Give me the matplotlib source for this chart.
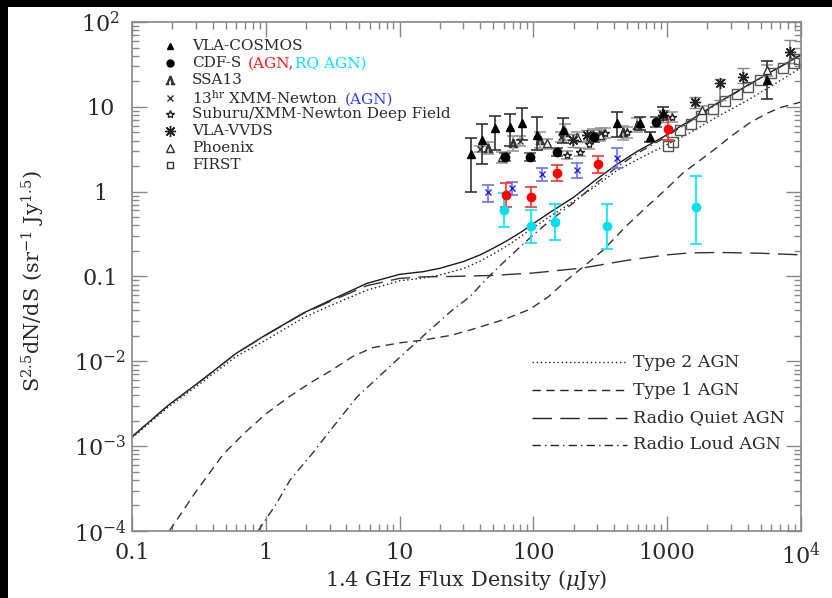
import matplotlib
matplotlib.use("Agg")
import matplotlib.pyplot as plt
from matplotlib.patches import Rectangle
import numpy as np

plt.rcParams['font.family'] = ['DejaVu Serif']
plt.rcParams['mathtext.fontset'] = 'dejavuserif'

# ---- model curves (flux density in uJy, S^2.5 dN/dS) ----
tot_S = [0.1, 0.187, 0.32, 0.6, 1.0, 1.9, 3, 5.7, 10, 15, 20, 30, 40, 50, 65, 80, 100, 133, 200,
         300, 422, 600, 931, 1500, 2355, 4000, 7330, 10000]
tot_V = [1.29e-3, 3.04e-3, 5.73e-3, 0.0124, 0.0205, 0.037, 0.052, 0.083, 0.106, 0.114, 0.125,
         0.150, 0.18, 0.215, 0.27, 0.33, 0.42, 0.57, 0.86, 1.42, 2.1, 3.0, 4.4, 7.0, 11.0, 18, 31, 41]

type2_S = [0.1, 0.187, 0.32, 0.6, 1.0, 1.9, 3, 5.7, 10, 15, 20, 30, 40, 50, 65, 80, 100, 133, 200,
           300, 422, 600, 931, 1500, 2355, 4000, 7330, 10000]
type2_V = [1.25e-3, 2.9e-3, 5.4e-3, 0.0114, 0.0178, 0.0325, 0.045, 0.069, 0.089, 0.096, 0.104,
           0.124, 0.152, 0.184, 0.235, 0.295, 0.378, 0.51, 0.77, 1.2, 1.78, 2.4, 3.4, 5.0, 7.6, 12,
           21.3, 29]

type1_S = [0.19, 0.3, 0.48, 0.7, 1.0, 1.52, 2.2, 3, 4.5, 6.3, 10, 15, 24, 33.6, 60, 94, 130, 178,
           250, 331, 500, 700, 1000, 1312, 2200, 3000, 4160, 5500, 7000, 10000]
type1_V = [1e-4, 2.9e-4, 8.0e-4, 1.45e-3, 2.4e-3, 3.9e-3, 5.7e-3, 7.6e-3, 0.0115, 0.0145, 0.0165,
           0.0178, 0.0202, 0.0234, 0.031, 0.041, 0.058, 0.091, 0.14, 0.204, 0.40, 0.66, 1.1, 1.66,
           3.05, 4.5, 6.5, 8.3, 9.8, 11.4]

rq_S = [0.1, 0.187, 0.32, 0.6, 1.0, 1.9, 3, 5.7, 10, 15, 24, 50, 100, 234, 500, 1000, 1500, 2500,
        5000, 10000]
rq_V = [1.29e-3, 3.04e-3, 5.73e-3, 0.0124, 0.0203, 0.0365, 0.0505, 0.078, 0.095, 0.099, 0.1, 0.103,
        0.11, 0.126, 0.155, 0.18, 0.19, 0.192, 0.188, 0.18]

rl_S = [0.875, 1.2, 1.52, 2.2, 3, 4.8, 7, 10, 15, 24, 33.6, 40, 50, 65, 80, 100, 133, 200, 300,
        422, 600, 931, 1500, 2355, 4000, 7330, 10000]
rl_V = [1e-4, 2.1e-4, 4e-4, 8e-4, 1.5e-3, 3.8e-3, 6.6e-3, 0.0111, 0.0199, 0.0385, 0.058, 0.078,
        0.112, 0.166, 0.225, 0.31, 0.455, 0.74, 1.29, 1.95, 2.84, 4.22, 6.8, 10.8, 17.8, 30.8, 40.8]

# ---- data points ----
cosmos_S = [34, 41, 52, 67, 82, 106, 166, 422, 627, 743, 931, 5570]
cosmos_V = [2.8, 4.06, 5.6, 5.8, 6.4, 4.6, 5.35, 6.4, 6.4, 4.4, 8.4, 20.7]
cosmos_lo = [0.99, 2.1, 3.1, 3.5, 4.1, 3.1, 3.7, 4.4, 5.4, 3.9, 7.0, 12.4]
cosmos_hi = [4.3, 6.3, 7.8, 8.2, 9.7, 7.6, 7.4, 8.7, 7.6, 5.0, 10.0, 35.0]

cdfs_S = [61, 94, 150, 282, 830]
cdfs_V = [2.56, 2.56, 2.9, 4.4, 6.6]
cdfs_lo = [2.3, 2.3, 2.6, 3.9, 5.8]
cdfs_hi = [2.85, 2.85, 3.25, 4.9, 7.5]

agn_S = [62, 96, 150, 304, 1014]
agn_V = [0.91, 0.86, 1.66, 2.11, 5.5]
agn_lo = [0.66, 0.66, 1.33, 1.64, 4.1]
agn_hi = [1.26, 1.13, 2.07, 2.63, 7.2]

rqagn_S = [60, 96, 145, 355, 1641]
rqagn_V = [0.61, 0.39, 0.44, 0.39, 0.66]
rqagn_lo = [0.38, 0.25, 0.27, 0.21, 0.24]
rqagn_hi = [0.96, 0.61, 0.72, 0.72, 1.53]

ssa_S = [46, 70, 112, 172, 280, 470, 590]
ssa_V = [3.3, 3.7, 4.06, 5.1, 4.6, 5.0, 6.1]
ssa_lo = [2.8, 3.0, 3.3, 4.1, 3.8, 4.1, 5.0]
ssa_hi = [3.9, 4.5, 5.0, 6.2, 5.5, 6.0, 7.3]

xmm_S = [40, 80, 160, 320]
xmm_V = [3.2, 4.0, 4.4, 4.9]
xmm_lo = [2.9, 3.5, 3.9, 4.2]
xmm_hi = [3.5, 4.5, 5.0, 5.6]

xmmagn_S = [46, 69, 116, 212, 422]
xmmagn_V = [0.99, 1.10, 1.61, 1.80, 2.49]
xmmagn_lo = [0.76, 0.91, 1.33, 1.46, 1.9]
xmmagn_hi = [1.2, 1.29, 1.9, 2.17, 3.3]

subaru_S = [178, 223, 260, 342, 500, 1090]
subaru_V = [2.7, 2.9, 3.6, 4.9, 5.0, 7.6]
subaru_lo = [2.45, 2.6, 3.2, 4.3, 4.3, 6.6]
subaru_hi = [3.0, 3.3, 4.0, 5.6, 5.8, 8.7]

vvds_S = [197, 250, 930, 1615, 2480, 3670, 8270]
vvds_V = [4.06, 4.6, 8.0, 11.4, 19.1, 22.4, 44]
vvds_lo = [3.4, 3.9, 6.6, 9.7, 12.0, 19.1, 33]
vvds_hi = [4.8, 5.4, 9.2, 13.1, 21.2, 28.7, 61]

phoenix_S = [58, 126, 213, 313, 1810, 5570]
phoenix_V = [2.56, 3.7, 4.4, 4.6, 9.2, 27]
phoenix_lo = [2.2, 3.2, 3.9, 4.0, 8.2, 23]
phoenix_hi = [2.9, 4.2, 5.0, 5.3, 10.3, 31]

first_S = [1010, 1100, 1240, 1500, 1800, 2200, 2700, 3300, 4000, 4900, 6000, 7300, 8800, 9700]
first_V = [3.5, 3.8, 5.3, 6.3, 7.8, 9.5, 11.8, 14, 17, 20.5, 25, 29, 33, 37]

xtick_vals = [0.1, 1, 10, 100, 1000, 1e4]
xtick_labels = ['0.1', '1', '10', '100', '1000', r'10$^4$']
ytick_vals = [1e-4, 1e-3, 1e-2, 0.1, 1, 10, 100]
ytick_labels = [r'10$^{-4}$', r'10$^{-3}$', r'10$^{-2}$', '0.1', '1', '10', r'10$^2$']

txt = '#2a2a2a'
axc = '#888888'

fig = plt.figure(figsize=(8.32, 5.98), dpi=100, facecolor='black')
fig.patches.append(Rectangle((8 / 832, 0), 1, 1 - 7 / 598, transform=fig.transFigure,
                             facecolor='white', edgecolor='none', zorder=-10))
ax = fig.add_axes([132 / 832, 1 - 531 / 598, 669 / 832, 509 / 598])
ax.set_xscale('log')
ax.set_yscale('log')
ax.set_xlim(0.1, 1e4)
ax.set_ylim(1e-4, 1e2)

lc = '#1a1a1a'
ax.plot(tot_S, tot_V, color=lc, lw=1.0, ls='-')
ax.plot(type2_S, type2_V, color=lc, lw=1.0, ls=(0, (1, 2)))
ax.plot(type1_S, type1_V, color='#333', lw=1.0, ls=(0, (6, 4)))
ax.plot(rq_S, rq_V, color='#333', lw=1.0, ls=(0, (14, 6)))
ax.plot(rl_S, rl_V, color='#333', lw=1.0, ls=(0, (6, 3, 1, 3)))


def err(v, lo, hi):
    v = np.array(v)
    return [v - np.array(lo), np.array(hi) - v]


eb = dict(capsize=4, elinewidth=1.2, capthick=1.2, ls='none')
ax.errorbar(ssa_S, ssa_V, yerr=err(ssa_V, ssa_lo, ssa_hi), ecolor='#999', marker=r'$\Lambda$',
            ms=6, color='#333', **eb)
ax.errorbar(phoenix_S, phoenix_V, yerr=err(phoenix_V, phoenix_lo, phoenix_hi), ecolor='#999',
            marker='^', ms=6, mfc='white', mec='#333', **eb)
ax.errorbar(xmm_S, xmm_V, yerr=err(xmm_V, xmm_lo, xmm_hi), ecolor='#999', marker='x',
            ms=5, color='#333', **eb)
ax.errorbar(subaru_S, subaru_V, yerr=err(subaru_V, subaru_lo, subaru_hi), ecolor='#999',
            marker='*', ms=6, mfc='white', mec='#222', **eb)
ax.errorbar(vvds_S, vvds_V, yerr=err(vvds_V, vvds_lo, vvds_hi), ecolor='#888',
            marker=(8, 2, 0), ms=8, color='#222', mew=1, **eb)
ax.plot(first_S, first_V, ls='none', marker='s', ms=7, mfc='none', mec='#555', mew=1)
ax.errorbar(cosmos_S, cosmos_V, yerr=err(cosmos_V, cosmos_lo, cosmos_hi), ecolor='#333',
            marker='^', ms=5.5, color='black', **eb)
ax.errorbar(cdfs_S, cdfs_V, yerr=err(cdfs_V, cdfs_lo, cdfs_hi), ecolor='#555', marker='o',
            ms=6, color='black', **eb)
ax.errorbar(xmmagn_S, xmmagn_V, yerr=err(xmmagn_V, xmmagn_lo, xmmagn_hi), ecolor='#6f6fff',
            marker='x', ms=5, color='#2222ee', **eb)
ax.errorbar(agn_S, agn_V, yerr=err(agn_V, agn_lo, agn_hi), ecolor='#ff3030', marker='o',
            ms=6, color='#ff0000', **eb)
ax.errorbar(rqagn_S, rqagn_V, yerr=err(rqagn_V, rqagn_lo, rqagn_hi), ecolor='#00e8f0',
            marker='o', ms=6, color='#00e0f0', **eb)

# axes styling
ax.set_xticks(xtick_vals)
ax.set_xticklabels(xtick_labels)
ax.set_yticks(ytick_vals)
ax.set_yticklabels(ytick_labels)
for s in ax.spines.values():
    s.set_color(axc)
    s.set_linewidth(1.2)
ax.tick_params(which='both', direction='in', top=True, right=True, colors=axc,
               labelcolor=txt, labelsize=16)
ax.tick_params(which='major', length=11, width=1)
ax.tick_params(which='minor', length=5, width=1)
ax.tick_params(axis='x', pad=8)
ax.tick_params(axis='y', pad=23)
for lab in ax.get_yticklabels():
    lab.set_horizontalalignment('center')

ax.set_xlabel(r'1.4 GHz Flux Density ($\mu$Jy)', fontsize=15, color=txt)
ax.set_ylabel(r'S$^{2.5}$dN/dS (sr$^{-1}$ Jy$^{1.5}$)', fontsize=15, color=txt)
ax.xaxis.set_label_coords(0.5, -0.072)
ax.yaxis.set_label_coords(-0.127, 0.49)

# symbol key (upper left)
key_rows = [0.953, 0.919, 0.886, 0.851, 0.819, 0.786, 0.752, 0.719]
mx, tx = 0.057, 0.0897
fs = 11
ax.plot(mx, key_rows[0], transform=ax.transAxes, marker='^', ms=5, color='black')
ax.plot(mx, key_rows[1], transform=ax.transAxes, marker='o', ms=5, color='black')
ax.plot(mx, key_rows[2], transform=ax.transAxes, marker=r'$\Lambda$', ms=6, color='#333')
ax.plot(mx, key_rows[3], transform=ax.transAxes, marker='x', ms=5, color='#333')
ax.plot(mx, key_rows[4], transform=ax.transAxes, marker='*', ms=6, mfc='white', mec='#222')
ax.plot(mx, key_rows[5], transform=ax.transAxes, marker=(8, 2, 0), ms=8, color='#222')
ax.plot(mx, key_rows[6], transform=ax.transAxes, marker='^', ms=6, mfc='white', mec='#333')
ax.plot(mx, key_rows[7], transform=ax.transAxes, marker='s', ms=5, mfc='white', mec='#333')

kw = dict(transform=ax.transAxes, fontsize=fs, color=txt, va='center')
ax.text(tx, key_rows[0], 'VLA-COSMOS', **kw)
t1 = ax.text(tx, key_rows[1], 'CDF-S', **kw)
t2 = ax.annotate('(AGN,', xy=(1, 0), xycoords=t1, xytext=(5, 0), textcoords='offset points',
                 fontsize=fs, color='#ff1a1a', va='bottom')
ax.annotate('RQ AGN)', xy=(1, 0), xycoords=t2, xytext=(0, 0), textcoords='offset points',
            fontsize=fs, color='#00e5f5', va='bottom')
ax.text(tx, key_rows[2], 'SSA13', **kw)
t4 = ax.text(tx, key_rows[3], r'13$^{\rm hr}$ XMM-Newton', **kw)
ax.annotate('(AGN)', xy=(1, 0), xycoords=t4, xytext=(5, 0), textcoords='offset points',
            fontsize=fs, color='#3a3aff', va='bottom')
ax.text(tx, key_rows[4], 'Suburu/XMM-Newton Deep Field', **kw)
ax.text(tx, key_rows[5], 'VLA-VVDS', **kw)
ax.text(tx, key_rows[6], 'Phoenix', **kw)
ax.text(tx, key_rows[7], 'FIRST', **kw)

# line key (lower right)
line_rows = [0.332, 0.277, 0.222, 0.169]
line_names = ['Type 2 AGN', 'Type 1 AGN', 'Radio Quiet AGN', 'Radio Loud AGN']
line_styles = [(0, (1, 2)), (0, (6, 4)), (0, (14, 6)), (0, (6, 3, 1, 3))]
for yy, name, st in zip(line_rows, line_names, line_styles):
    ax.plot([0.598, 0.740], [yy, yy], transform=ax.transAxes, color='#222', lw=1.0, ls=st)
    ax.text(0.749, yy, name, transform=ax.transAxes, fontsize=12.5, color=txt, va='center')

fig.savefig('out.png', dpi=100, facecolor=fig.get_facecolor())
